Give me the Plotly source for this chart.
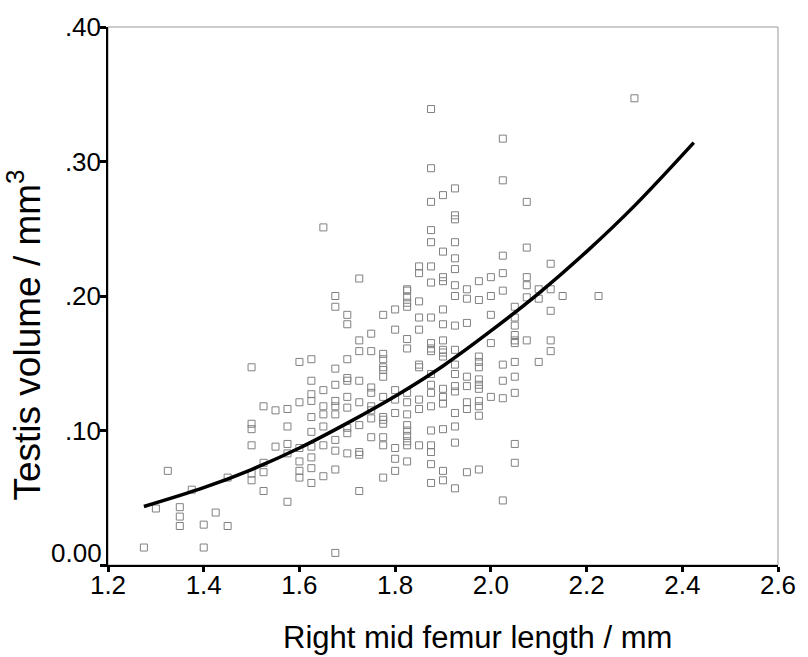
import plotly.graph_objects as go

# ---- data (x column -> list of y values) ----
col_x = [1.275, 1.30, 1.325, 1.35, 1.375, 1.40, 1.425, 1.45, 1.50, 1.525, 1.55, 1.575,
         1.60, 1.625, 1.65, 1.675, 1.70, 1.725, 1.75, 1.775, 1.80, 1.825, 1.85, 1.875,
         1.90, 1.925, 1.95, 1.975, 2.00, 2.025, 2.05, 2.075, 2.10, 2.125, 2.15, 2.225, 2.30]
col_y = [
    [0.013],
    [0.042],
    [0.070],
    [0.043, 0.036, 0.029],
    [0.056],
    [0.030, 0.013],
    [0.039],
    [0.065, 0.029],
    [0.147, 0.105, 0.101, 0.089, 0.068, 0.063],
    [0.118, 0.076, 0.069, 0.055],
    [0.115, 0.088],
    [0.116, 0.103, 0.090, 0.083, 0.047],
    [0.151, 0.121, 0.087, 0.077, 0.070, 0.065],
    [0.153, 0.137, 0.127, 0.122, 0.110, 0.099, 0.088, 0.080, 0.072, 0.061],
    [0.251, 0.130, 0.118, 0.112, 0.103, 0.089, 0.066],
    [0.200, 0.192, 0.146, 0.134, 0.122, 0.118, 0.112, 0.093, 0.085, 0.071, 0.009],
    [0.186, 0.179, 0.153, 0.139, 0.137, 0.125, 0.117, 0.102, 0.098, 0.083],
    [0.213, 0.167, 0.159, 0.137, 0.121, 0.104, 0.084, 0.082, 0.055],
    [0.172, 0.159, 0.132, 0.128, 0.118, 0.115, 0.109, 0.095],
    [0.186, 0.157, 0.153, 0.147, 0.145, 0.140, 0.125, 0.110, 0.108, 0.105, 0.095, 0.089, 0.065],
    [0.190, 0.175, 0.130, 0.123, 0.113, 0.087, 0.079, 0.070],
    [0.205, 0.204, 0.199, 0.195, 0.192, 0.168, 0.161, 0.128, 0.121, 0.112, 0.104, 0.100,
     0.096, 0.092, 0.089, 0.077],
    [0.222, 0.217, 0.196, 0.184, 0.175, 0.149, 0.147, 0.123, 0.116, 0.089],
    [0.339, 0.295, 0.270, 0.249, 0.240, 0.222, 0.210, 0.184, 0.165, 0.161, 0.159, 0.142,
     0.134, 0.128, 0.118, 0.100, 0.089, 0.084, 0.075, 0.061],
    [0.275, 0.233, 0.214, 0.211, 0.190, 0.179, 0.167, 0.160, 0.158, 0.155, 0.131, 0.125,
     0.120, 0.101, 0.070, 0.063],
    [0.280, 0.260, 0.257, 0.240, 0.228, 0.220, 0.208, 0.200, 0.178, 0.160, 0.149, 0.142,
     0.133, 0.129, 0.113, 0.103, 0.091, 0.057],
    [0.205, 0.198, 0.180, 0.140, 0.133, 0.121, 0.116, 0.069],
    [0.211, 0.197, 0.155, 0.151, 0.147, 0.138, 0.134, 0.131, 0.122, 0.118, 0.111, 0.071],
    [0.214, 0.200, 0.186, 0.165, 0.125],
    [0.317, 0.286, 0.230, 0.217, 0.204, 0.149, 0.137, 0.124, 0.048],
    [0.192, 0.184, 0.178, 0.171, 0.167, 0.165, 0.151, 0.140, 0.128, 0.090, 0.076],
    [0.270, 0.236, 0.214, 0.208, 0.199, 0.167],
    [0.205, 0.198, 0.151],
    [0.224, 0.205, 0.189, 0.167, 0.159],
    [0.200],
    [0.200],
    [0.347],
]

# fitted curve
curve_x = [1.275, 1.40, 1.50, 1.60, 1.70, 1.80, 1.90, 2.00, 2.10, 2.20, 2.30, 2.424]
curve_y = [0.0435, 0.0575, 0.071, 0.087, 0.1055, 0.1255, 0.148, 0.174, 0.202, 0.233, 0.267, 0.314]

x_ticks = [1.2, 1.4, 1.6, 1.8, 2.0, 2.2, 2.4, 2.6]
x_tick_text = ["1.2", "1.4", "1.6", "1.8", "2.0", "2.2", "2.4", "2.6"]
y_ticks = [0.0, 0.10, 0.20, 0.30, 0.40]
y_tick_text = ["0.00", ".10", ".20", ".30", ".40"]

xs, ys = [], []
for cx, vals in zip(col_x, col_y):
    for v in vals:
        xs.append(cx)
        ys.append(v)

FONT = "Liberation Sans, Arial, sans-serif"

fig = go.Figure()
fig.add_trace(go.Scatter(
    x=xs, y=ys, mode="markers",
    marker=dict(symbol="square-open", size=7, color="#808080", line=dict(width=1, color="#808080")),
    showlegend=False, hoverinfo="skip"))
fig.add_trace(go.Scatter(
    x=curve_x, y=curve_y, mode="lines", line=dict(color="black", width=3.5, shape="spline"),
    showlegend=False, hoverinfo="skip"))

# the bottom y label sits above its tick (as in the reference) -> drawn as an annotation
shown_y_text = [""] + y_tick_text[1:]

fig.update_layout(
    width=808, height=657,
    margin=dict(l=108, r=20, t=19, b=92),
    paper_bgcolor="white", plot_bgcolor="white",
    font=dict(family=FONT, color="black"),
    shapes=[dict(type="rect", xref="paper", yref="paper", x0=0, x1=1, y0=0, y1=1,
                 line=dict(color="#9a9a9a", width=1), layer="below")],
    annotations=[
        dict(text=y_tick_text[0], xref="paper", yref="y", x=-0.006, y=y_ticks[0],
             xanchor="right", yanchor="bottom", yshift=-5, showarrow=False,
             font=dict(size=26, family=FONT)),
        dict(text="Right mid femur length / mm", xref="paper", yref="paper",
             x=0.551, y=-0.134, xanchor="center", yanchor="middle", showarrow=False,
             font=dict(size=31, family=FONT)),
        dict(text="Testis volume / mm<sup>3</sup>", xref="paper", yref="paper",
             x=-0.125, y=0.427, xanchor="center", yanchor="middle", showarrow=False,
             textangle=-90, font=dict(size=37, family=FONT)),
    ],
)
fig.update_xaxes(range=[1.2, 2.6], tickvals=x_ticks, ticktext=x_tick_text,
                 showgrid=False, zeroline=False, showline=True, linecolor="black", linewidth=2,
                 ticks="outside", ticklen=5, tickwidth=3, tickcolor="black",
                 ticklabelstandoff=-9,
                 tickfont=dict(size=26, family=FONT))
fig.update_yaxes(range=[0, 0.40], tickvals=y_ticks, ticktext=shown_y_text,
                 showgrid=False, zeroline=False, showline=True, linecolor="black", linewidth=1.5,
                 ticks="outside", ticklen=6, tickwidth=3, tickcolor="black",
                 ticklabelstandoff=-6,
                 tickfont=dict(size=26, family=FONT))

fig.write_html("out.html")
